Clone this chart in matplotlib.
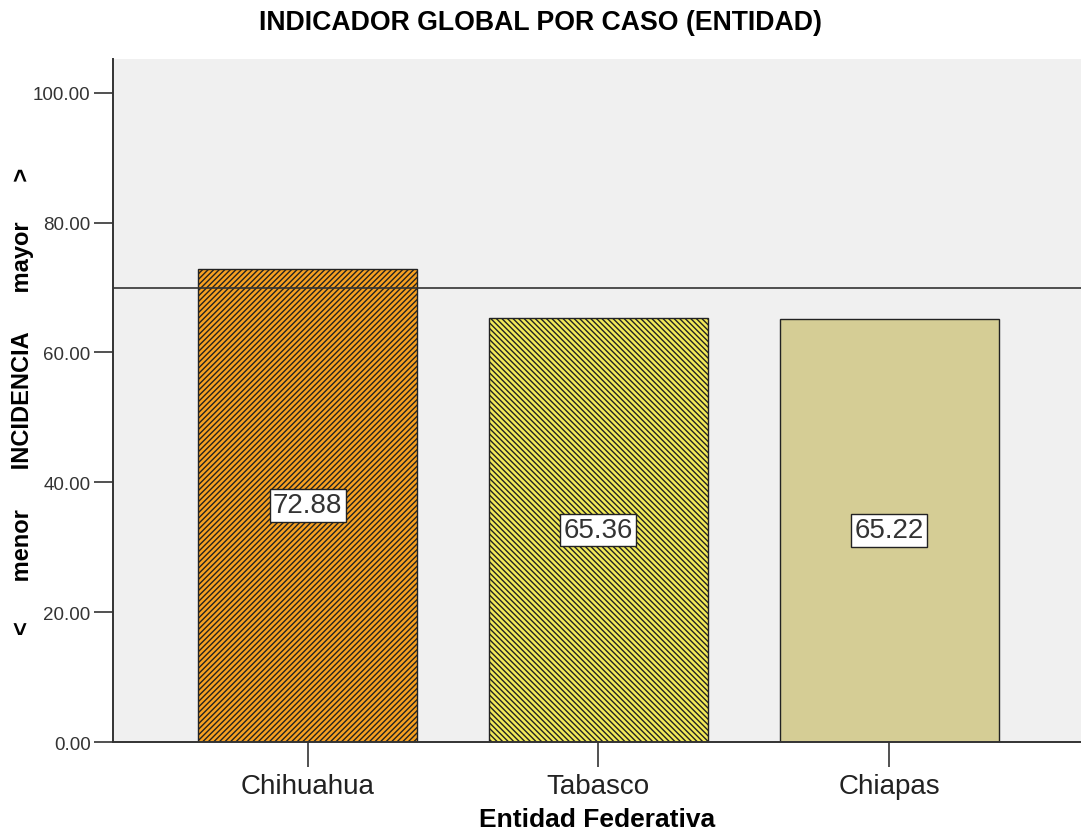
import matplotlib
matplotlib.use("Agg")
import matplotlib.pyplot as plt

plt.rcParams['font.family'] = ['Liberation Sans', 'DejaVu Sans']
plt.rcParams['hatch.linewidth'] = 1.0

# Data
entidades = ['Chihuahua', 'Tabasco', 'Chiapas']
indicador = [72.88, 65.36, 65.22]
referencia = 70
colores = ['#F7A020', '#F2EA58', '#D5CD95']
tramas = ['//////', '\\\\\\\\\\\\', None]

fig = plt.figure(figsize=(10.81, 8.37), dpi=100)
ax = fig.add_axes([0.1045, 0.1123, 0.8955, 0.816])
ax.set_facecolor('#F0F0F0')

x = range(len(entidades))
for i, (v, c, h) in enumerate(zip(indicador, colores, tramas)):
    ax.bar(i, v, width=0.753, color=c, edgecolor='#222222', linewidth=1.0,
           hatch=h, zorder=2)
    ax.text(i, v / 2, f'{v:.2f}', ha='center', va='center', fontsize=20,
            color='#333333', zorder=4,
            bbox=dict(boxstyle='square,pad=0.12', fc='white', ec='#222222', lw=1.0))

# Reference line
ax.axhline(referencia, color='#333333', linewidth=1.2, zorder=3)

ax.set_xlim(-0.67, 2.66)
ax.set_ylim(0, 105.2)
ax.set_yticks([0, 20, 40, 60, 80, 100])
ax.set_yticklabels([f'{t:.2f}' for t in [0, 20, 40, 60, 80, 100]],
                   fontsize=13.5, color='#333333')
ax.set_xticks(list(x))
ax.set_xticklabels(entidades, fontsize=20, color='#222222')
ax.tick_params(axis='y', length=14, width=1.2, color='#333333', pad=2)
ax.tick_params(axis='x', length=18, width=1.2, color='#333333', pad=4)

for s in ['top', 'right']:
    ax.spines[s].set_visible(False)
for s in ['left', 'bottom']:
    ax.spines[s].set_color('#333333')
    ax.spines[s].set_linewidth(1.4)

ax.set_xlabel('Entidad Federativa', fontsize=19, fontweight='bold', labelpad=6)
fig.text(0.021, 0.52, '<      menor      INCIDENCIA      mayor      >',
         rotation=90, ha='center', va='center', fontsize=17, fontweight='bold')
fig.text(0.5, 0.972, 'INDICADOR GLOBAL POR CASO (ENTIDAD)', ha='center',
         va='center', fontsize=19.2, fontweight='bold')

fig.savefig('out.png', dpi=100, facecolor='white')
